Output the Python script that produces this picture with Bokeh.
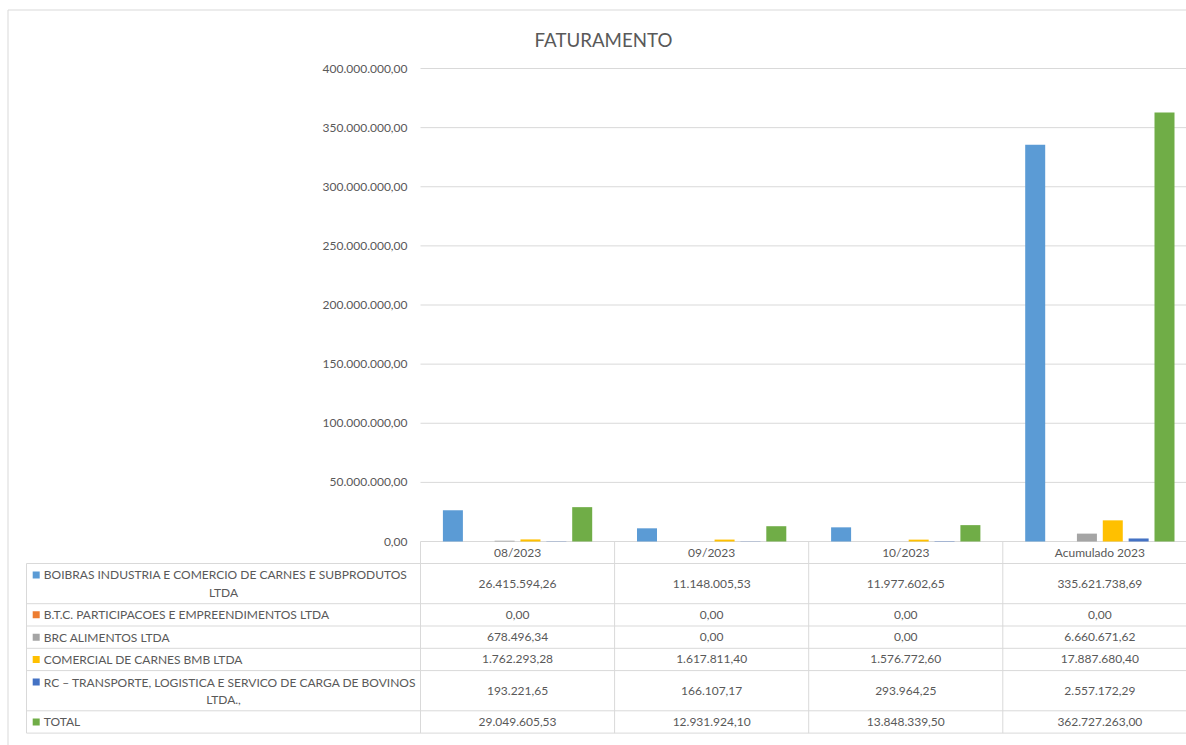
from bokeh.plotting import figure
from bokeh.models import Range1d, FixedTicker, Label
from bokeh.embed import file_html
from bokeh.resources import INLINE
from bokeh.core.properties import value

# ---------------- data ----------------
periods = ["08/2023", "09/2023", "10/2023", "Acumulado 2023"]
series_names = [
    "BOIBRAS INDUSTRIA E COMERCIO DE CARNES E SUBPRODUTOS LTDA",
    "B.T.C. PARTICIPACOES E EMPREENDIMENTOS LTDA",
    "BRC ALIMENTOS LTDA",
    "COMERCIAL DE CARNES BMB LTDA",
    "RC \u2013 TRANSPORTE, LOGISTICA E SERVICO DE CARGA DE BOVINOS LTDA.,",
    "TOTAL",
]
boibras = [26415594.26, 11148005.53, 11977602.65, 335621738.69]
btc = [0.00, 0.00, 0.00, 0.00]
brc = [678496.34, 0.00, 0.00, 6660671.62]
bmb = [1762293.28, 1617811.40, 1576772.60, 17887680.40]
rc = [193221.65, 166107.17, 293964.25, 2557172.29]
total = [29049605.53, 12931924.10, 13848339.50, 362727263.00]
y_ticks = [0, 50000000, 100000000, 150000000, 200000000,
           250000000, 300000000, 350000000, 400000000]
title_text = "FATURAMENTO"

series = [boibras, btc, brc, bmb, rc, total]
colors = ["#5B9BD5", "#ED7D31", "#A5A5A5", "#FFC000", "#4472C4", "#70AD47"]

FONT = "Lato"
TXT = "#595959"
GRID = "#d9d9d9"


def fmt_br(v):
    s = f"{v:,.2f}"
    return s.replace(",", "X").replace(".", ",").replace("X", ".")


# ---------------- layout constants (page pixels) ----------------
W, H = 1186, 745
PAGE_L, PAGE_T = 0, 0
PAGE_R, PAGE_B = PAGE_L + W, PAGE_T + H
X0_PAGE = 420          # left edge of first category
Y0_PAGE = 541          # value 0
YMAX_PAGE = 68         # top tick
CAT_PX = 194.1
PX = 1.0 / CAT_PX                                # x data units per pixel
VPP = y_ticks[-1] / float(Y0_PAGE - YMAX_PAGE)   # value per pixel
SLOT = 25.86 * PX
BAR_W = 20.0 * PX
LEG_LEFT = (26 - X0_PAGE) * PX
X_START = (PAGE_L - X0_PAGE) * PX
X_END = (PAGE_R - X0_PAGE) * PX
Y_TOP = (Y0_PAGE - PAGE_T) * VPP
Y_BOT = -(PAGE_B - Y0_PAGE) * VPP
BORDER_X = (7.5 - X0_PAGE) * PX
BORDER_Y = (Y0_PAGE - 9.5) * VPP


def ty(px_below):
    """table row offset (pixels below the value-0 line) -> y data"""
    return -px_below * VPP


p = figure(width=W, height=H, output_backend="svg", toolbar_location=None,
           x_range=Range1d(X_START, X_END), y_range=Range1d(Y_BOT, Y_TOP),
           x_axis_location=None, min_border=0,
           outline_line_color=None, background_fill_color="white",
           border_fill_color="white")
p.grid.visible = False

# y axis drawn at the first category edge
p.yaxis.fixed_location = 0
p.yaxis.ticker = FixedTicker(ticks=y_ticks)
p.yaxis.major_label_overrides = {t: fmt_br(t) for t in y_ticks}
p.yaxis.axis_line_color = None
p.yaxis.major_tick_line_color = None
p.yaxis.minor_tick_line_color = None
p.yaxis.major_tick_out = 0
p.yaxis.major_tick_in = 0
p.yaxis.major_label_standoff = 13
p.yaxis.major_label_text_font = FONT
p.yaxis.major_label_text_font_size = "12px"
p.yaxis.major_label_text_color = TXT

# horizontal gridlines (value ticks) across the plot area
p.segment(x0=[0] * len(y_ticks), y0=y_ticks, x1=[X_END] * len(y_ticks), y1=y_ticks,
          line_color=GRID, line_width=1)

# outer chart border (top + left)
p.segment(x0=[BORDER_X, BORDER_X], y0=[Y_BOT, BORDER_Y],
          x1=[BORDER_X, X_END], y1=[BORDER_Y, BORDER_Y],
          line_color=GRID, line_width=1)

# bars
for j, vals in enumerate(series):
    xs = [i + 0.5 + (j - 2.5) * SLOT for i in range(len(periods))]
    p.vbar(x=xs, top=vals, bottom=0, width=BAR_W, fill_color=colors[j], line_color=None)

# title
p.add_layout(Label(x=(603 - X0_PAGE) * PX, y=(Y0_PAGE - 39) * VPP,
                   text=title_text, text_align="center", text_baseline="middle",
                   text_font=FONT, text_font_size="18.7px", text_color=TXT))

# ---------------- data table ----------------
HEADER_H = 22.0
nlines = [2 if len(n) > 50 else 1 for n in series_names]
row_h = [4.4 + 17.9 * n for n in nlines]
tops = []
acc = HEADER_H
for h in row_h:
    tops.append(acc)
    acc += h
bottom = acc

hy = tops + [bottom]
p.segment(x0=[LEG_LEFT] * len(hy), y0=[ty(v) for v in hy],
          x1=[X_END] * len(hy), y1=[ty(v) for v in hy], line_color=GRID, line_width=1)
vx = list(range(len(periods) + 1))
p.segment(x0=vx, y0=[0] * len(vx), x1=vx, y1=[ty(bottom)] * len(vx),
          line_color=GRID, line_width=1)
p.segment(x0=[LEG_LEFT], y0=[ty(tops[0])], x1=[LEG_LEFT], y1=[ty(bottom)],
          line_color=GRID, line_width=1)

common = dict(text_font=value(FONT), text_font_size="12px", text_color=TXT,
              text_baseline="middle")

# header row
p.text(x=[i + 0.5 for i in range(len(periods))], y=[ty(HEADER_H / 2)] * len(periods),
       text=periods, text_align="center", **common)

# values
vx_, vy_, vt_ = [], [], []
for r, vals in enumerate(series):
    for i, v in enumerate(vals):
        vx_.append(i + 0.5)
        vy_.append(ty(tops[r] + row_h[r] / 2))
        vt_.append(fmt_br(v))
p.text(x=vx_, y=vy_, text=vt_, text_align="center", **common)

# legend keys and names
mk_x, mk_y = [], []
l1x, l1y, l1t = [], [], []
l2x, l2y, l2t = [], [], []
col_center = LEG_LEFT / 2
for r, name in enumerate(series_names):
    cy = tops[r] + row_h[r] / 2
    if nlines[r] == 2:
        first, second = name.rsplit(" ", 1)
        y1 = cy - 8.7
        l2x.append(col_center); l2y.append(ty(cy + 8.7)); l2t.append(second)
    else:
        first = name
        y1 = cy
    mk_x.append(LEG_LEFT + 9.7 * PX); mk_y.append(ty(y1))
    l1x.append(LEG_LEFT + 17.3 * PX); l1y.append(ty(y1)); l1t.append(first)

p.scatter(x=mk_x, y=mk_y, marker="square", size=7, fill_color=colors, line_color=None)
p.text(x=l1x, y=l1y, text=l1t, text_align="left", **common)
p.text(x=l2x, y=l2y, text=l2t, text_align="center", **common)

open("out.html", "w").write(file_html(p, INLINE))
